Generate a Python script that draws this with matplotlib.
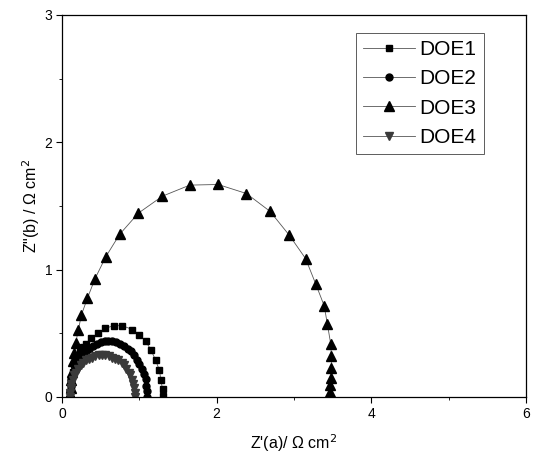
import matplotlib
matplotlib.use("Agg")
import matplotlib.pyplot as plt

plt.rcParams['font.family'] = ['Liberation Sans', 'DejaVu Sans']

# DOE1 (squares)
x1 = [0.10, 0.11, 0.12, 0.14, 0.16, 0.19, 0.23, 0.27, 0.31, 0.37, 0.46, 0.56,
      0.67, 0.78, 0.91, 1.00, 1.08, 1.15, 1.21, 1.26, 1.28, 1.30, 1.31]
y1 = [0.02, 0.08, 0.14, 0.20, 0.26, 0.31, 0.36, 0.39, 0.42, 0.46, 0.50, 0.54,
      0.56, 0.56, 0.53, 0.49, 0.44, 0.37, 0.29, 0.21, 0.13, 0.06, 0.01]

# DOE2 (circles)
x2 = [0.10, 0.10, 0.11, 0.12, 0.14, 0.17, 0.20, 0.23, 0.27, 0.31, 0.35, 0.40,
      0.45, 0.50, 0.55, 0.60, 0.65, 0.70, 0.75, 0.80, 0.85, 0.89, 0.93, 0.97,
      1.00, 1.03, 1.06, 1.08, 1.09, 1.10, 1.10]
y2 = [0.00, 0.05, 0.09, 0.14, 0.18, 0.22, 0.26, 0.29, 0.33, 0.36, 0.38, 0.40,
      0.42, 0.43, 0.44, 0.44, 0.44, 0.43, 0.42, 0.40, 0.38, 0.36, 0.33, 0.29,
      0.26, 0.22, 0.18, 0.14, 0.09, 0.05, 0.00]

# DOE3 (triangles up)
x3 = [0.10, 0.11, 0.12, 0.13, 0.14, 0.155, 0.177, 0.211, 0.25, 0.328, 0.427,
      0.565, 0.746, 0.988, 1.298, 1.652, 2.018, 2.385, 2.69, 2.937, 3.15, 3.28,
      3.39, 3.432, 3.476, 3.484, 3.484, 3.476, 3.467, 3.463, 3.45]
y3 = [0.02, 0.07, 0.13, 0.20, 0.28, 0.347, 0.426, 0.524, 0.643, 0.775, 0.929,
      1.10, 1.278, 1.444, 1.577, 1.664, 1.669, 1.598, 1.458, 1.272, 1.087, 0.889,
      0.717, 0.571, 0.413, 0.32, 0.228, 0.148, 0.095, 0.042, 0.00]

# DOE4 (triangles down)
x4 = [0.10, 0.10, 0.11, 0.12, 0.14, 0.16, 0.18, 0.21, 0.24, 0.27, 0.31, 0.35,
      0.39, 0.43, 0.48, 0.52, 0.56, 0.61, 0.65, 0.69, 0.73, 0.77, 0.80, 0.83,
      0.86, 0.88, 0.90, 0.92, 0.93, 0.94, 0.94]
y4 = [0.00, 0.03, 0.07, 0.10, 0.13, 0.17, 0.19, 0.22, 0.25, 0.27, 0.29, 0.30,
      0.31, 0.32, 0.33, 0.33, 0.33, 0.32, 0.31, 0.30, 0.29, 0.27, 0.25, 0.22,
      0.19, 0.17, 0.13, 0.10, 0.07, 0.03, 0.00]

labels = ['DOE1', 'DOE2', 'DOE3', 'DOE4']
xticks = [0, 2, 4, 6]
yticks = [0, 1, 2, 3]

fig = plt.figure(figsize=(5.38, 4.63), dpi=100)
ax = fig.add_axes([62/538, 1-397/463, 464/538, 382/463])

line_kw = dict(color='#555555', linewidth=0.6)
ax.plot(x1, y1, marker='s', markersize=5, markerfacecolor='black',
        markeredgecolor='black', label=labels[0], **line_kw)
ax.plot(x2, y2, marker='o', markersize=5, markerfacecolor='black',
        markeredgecolor='black', label=labels[1], **line_kw)
ax.plot(x3, y3, marker='^', markersize=7, markerfacecolor='black',
        markeredgecolor='black', label=labels[2], **line_kw)
ax.plot(x4, y4, marker='v', markersize=5.5, markerfacecolor='#3a3a3a',
        markeredgecolor='#3a3a3a', label=labels[3], **line_kw)

ax.set_xlim(0, 6)
ax.set_ylim(0, 3)
ax.set_xticks(xticks)
ax.set_yticks(yticks)
ax.set_xticks([1, 3, 5], minor=True)
ax.set_yticks([0.5, 1.5, 2.5], minor=True)
ax.tick_params(which='major', direction='out', length=4, width=0.8,
               labelsize=10, colors='black', pad=3)
ax.tick_params(which='minor', direction='out', length=2.5, width=0.6)
for s in ax.spines.values():
    s.set_linewidth(0.9)

ax.set_xlabel("Z'(a)/ \u03a9 cm$^2$", fontsize=11.5, labelpad=8)
ax.set_ylabel('Z"(b) / \u03a9 cm$^2$', fontsize=11.5, labelpad=2)

leg = ax.legend(loc='upper left', bbox_to_anchor=(0.633, 0.954), fontsize=15,
                frameon=True, fancybox=False, edgecolor='#333333',
                handlelength=2.5, handletextpad=0.2, labelspacing=0.5,
                borderpad=0.35, borderaxespad=0)
leg.get_frame().set_linewidth(0.7)

fig.savefig('out.png', dpi=100)
